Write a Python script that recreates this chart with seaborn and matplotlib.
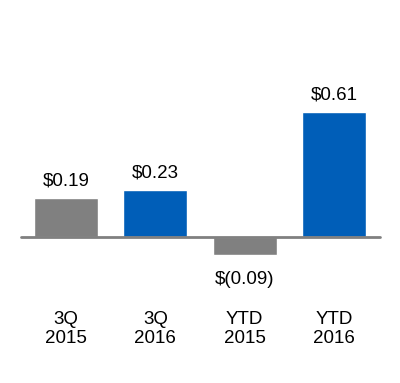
import pandas as pd
import matplotlib.pyplot as plt
import seaborn as sns

# -----------------------------
# Data
# -----------------------------
periods = ["3Q\n2015", "3Q\n2016", "YTD\n2015", "YTD\n2016"]
eps = [0.19, 0.23, -0.09, 0.61]
eps_labels = ["$0.19", "$0.23", "$(0.09)", "$0.61"]
bar_colors = ["#808080", "#005EB8", "#808080", "#005EB8"]

df = pd.DataFrame({"period": periods, "eps": eps})

# -----------------------------
# Plot
# -----------------------------
sns.set_style("white")
plt.rcParams["font.family"] = ["Liberation Sans", "DejaVu Sans"]

fig = plt.figure(figsize=(4, 3.83), dpi=100)
ax = fig.add_axes([0, 0, 1, 1])

sns.barplot(data=df, x="period", y="eps", hue="period", palette=bar_colors,
            width=0.715, legend=False, saturation=1, ax=ax)

ax.set_xlim(-0.739, 3.739)
ax.set_ylim(-0.712, 1.156)
ax.axhline(0, xmin=0.0525, xmax=0.95, color="#808080", lw=2, zorder=5)

for cont, lab, v in zip(ax.containers, eps_labels, eps):
    pad = 6 if v >= 0 else 11
    ax.bar_label(cont, labels=[lab], padding=pad, fontsize=13.5, color="black")

for i, p in enumerate(periods):
    ax.text(i, -0.449, p, ha="center", va="center", fontsize=13.5,
            linespacing=1.15, color="black")

ax.axis("off")
fig.savefig("out.png", dpi=100)
plt.close()
